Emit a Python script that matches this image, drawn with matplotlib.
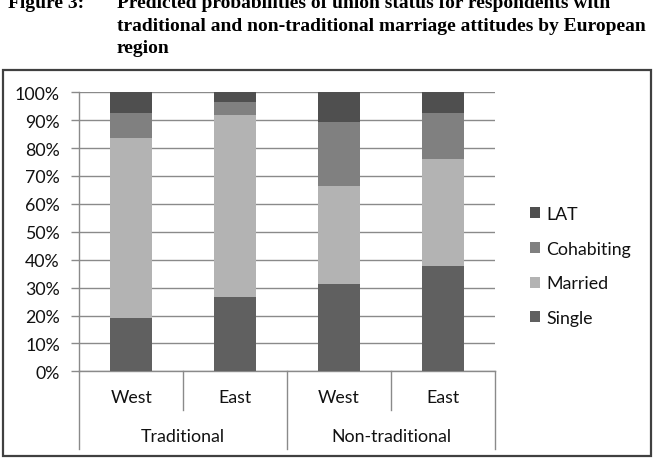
import matplotlib
matplotlib.use("Agg")
import matplotlib.pyplot as plt
from matplotlib.patches import Rectangle, Patch
from matplotlib.lines import Line2D

# ----------------- DATA -----------------
regions = ["West", "East", "West", "East"]
groups = ["Traditional", "Non-traditional"]
series = ["Single", "Married", "Cohabiting", "LAT"]
single = [19.2, 26.6, 31.3, 37.6]
married = [64.4, 65.3, 35.0, 38.5]
cohabiting = [9.0, 4.6, 23.2, 16.5]
lat = [7.4, 3.5, 10.5, 7.4]
yticks = [0, 10, 20, 30, 40, 50, 60, 70, 80, 90, 100]

colors = {"Single": "#606060", "Married": "#b3b3b3", "Cohabiting": "#808080", "LAT": "#4f4f4f"}
W, H = 658, 464
tick_font = ["Lato", "DejaVu Sans"]
fs = 12.8

fig = plt.figure(figsize=(W / 100, H / 100), dpi=100)
ax = fig.add_axes([79.3 / W, 1 - 372.3 / H, (495 - 79.3) / W, 279 / H])

# stacked bars
x = range(len(regions))
bottom = [0] * len(regions)
for name, vals in zip(series, [single, married, cohabiting, lat]):
    ax.bar(x, vals, width=0.4, bottom=bottom, color=colors[name], edgecolor="none", zorder=3)
    bottom = [b + v for b, v in zip(bottom, vals)]

ax.set_xlim(-0.5, len(regions) - 0.5)
ax.set_ylim(0, 100)
ax.set_yticks(yticks)
ax.set_yticklabels([f"{t}%" for t in yticks], family=tick_font, fontsize=fs, color="#111111")
ax.yaxis.grid(True, color="#8a8a8a", linewidth=1.0, zorder=0)
ax.tick_params(axis="y", length=6, color="#8a8a8a", width=1.0, pad=8)
ax.set_xticks([])
for s in ["top", "right"]:
    ax.spines[s].set_visible(False)
ax.spines["left"].set_color("#8a8a8a")
ax.spines["bottom"].set_color("#8a8a8a")
ax.spines["left"].set_linewidth(1.0)
ax.spines["bottom"].set_linewidth(1.0)

# category axis: separators and labels (in axes coords below the axis)
def ypix(p):
    # pixel row -> axes fraction
    return (372.3 - p) / 279

n = len(regions)
for i in range(n + 1):
    long_line = i % 2 == 0
    y_end = ypix(450 if long_line else 411)
    ax.add_line(Line2D([i / n, i / n], [0, y_end], transform=ax.transAxes,
                       color="#8a8a8a", linewidth=1.0, clip_on=False))
for i, r in enumerate(regions):
    ax.text((i + 0.5) / n, ypix(398), r, transform=ax.transAxes, ha="center", va="center",
            family=tick_font, fontsize=fs, color="#111111")
for j, g in enumerate(groups):
    ax.text((2 * j + 1) / n, ypix(437), g, transform=ax.transAxes, ha="center", va="center",
            family=tick_font, fontsize=fs, color="#111111")

# legend
handles = [Patch(facecolor=colors[s], edgecolor="none") for s in series[::-1]]
fig.legend(handles, series[::-1], loc="center left", bbox_to_anchor=(514 / W, 1 - 267 / H),
           frameon=False, prop={"family": tick_font, "size": fs}, handlelength=0.58,
           handleheight=0.58, handletextpad=0.35, labelspacing=1.05, labelcolor="#111111")

# outer frame
fig.add_artist(Rectangle((3 / W, 1 - 457 / H), 648 / W, 386 / H, transform=fig.transFigure,
                         fill=False, edgecolor="#404040", linewidth=1.6))

# title
title_font = ["Liberation Serif", "DejaVu Serif"]
fig.text(8 / W, 1 - 8 / H, "Figure 3:", family=title_font, weight="bold", fontsize=14, va="baseline")
lines = ["Predicted probabilities of union status for respondents with",
         "traditional and non-traditional marriage attitudes by European",
         "region"]
for k, line in enumerate(lines):
    fig.text(117 / W, 1 - (8 + 22.7 * k) / H, line, family=title_font, weight="bold",
             fontsize=14, va="baseline")

fig.savefig("out.png", dpi=100)
